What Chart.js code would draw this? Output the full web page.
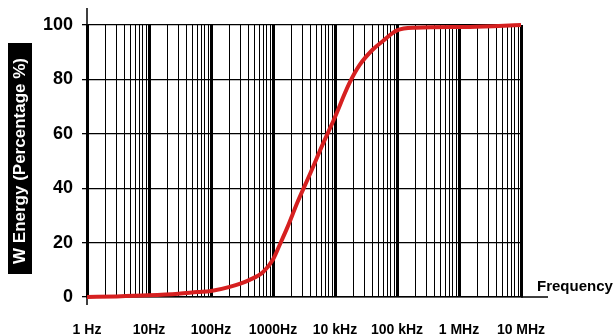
<!DOCTYPE html>
<html>
<head>
<meta charset="utf-8">
<script src="https://cdn.jsdelivr.net/npm/chart.js@4.4.1/dist/chart.umd.min.js"></script>
<style>
  html, body { margin: 0; padding: 0; background: #fff; }
  #wrap { width: 613px; height: 336px; }
</style>
</head>
<body>
<div id="wrap"><canvas id="chart-energy"></canvas></div>
<script>
// Frequency (Hz) and cumulative energy (%)
const freqHz = [1, 3, 10, 30, 60, 100, 200, 420, 700, 1000, 1300, 1700, 2500, 4000, 6300, 9500, 17000, 25000, 40000, 60000, 100000, 200000, 1500000, 10000000];
const energyPct = [0, 0.2, 0.6, 1.2, 1.8, 2.2, 3.7, 6.3, 9.3, 13.8, 19.5, 25.5, 35, 45.5, 56, 65, 78.5, 85.3, 90.8, 94.2, 98, 99, 99.3, 100];

// Tick labels
const decadeValues = [1, 10, 100, 1000, 10000, 100000, 1000000, 10000000];
const decadeLabels = ['1 Hz', '10Hz', '100Hz', '1000Hz', '10 kHz', '100 kHz', '1 MHz', '10 MHz'];
const yTicks = [0, 20, 40, 60, 80, 100];

function isDecade(v) {
    const l = Math.log10(v);
    return Math.abs(l - Math.round(l)) < 1e-9;
}

// log grid: 1..9 in every decade
const xGridValues = [];
decadeValues.forEach(function (d, i) {
    if (i === decadeValues.length - 1) { xGridValues.push(d); return; }
    for (let k = 1; k <= 9; k++) xGridValues.push(d * k);
});

const extras = {
    id: 'extras',
    beforeDraw(chart) {
        // black box behind the y title
        const ctx = chart.ctx;
        const y = chart.scales.y;
        const cy = (y.top + y.bottom) / 2;
        ctx.save();
        ctx.fillStyle = '#000';
        ctx.fillRect(8, cy - 118, 24, 231);
        ctx.restore();
    },
    beforeDatasetsDraw(chart) {
        const ctx = chart.ctx;
        const x = chart.scales.x, y = chart.scales.y;
        const y0 = y.getPixelForValue(0);
        ctx.save();
        ctx.strokeStyle = '#000';
        ctx.lineWidth = 1.5;
        ctx.beginPath();
        ctx.moveTo(x.right, y0);
        ctx.lineTo(x.right + 27, y0);
        ctx.moveTo(x.left, y.top - 17);
        ctx.lineTo(x.left, y0 + 8);
        ctx.stroke();
        ctx.restore();
    },
    afterDraw(chart) {
        const ctx = chart.ctx;
        ctx.save();
        ctx.fillStyle = '#000';
        ctx.font = 'bold 15px "Liberation Sans", Arial, sans-serif';
        ctx.textBaseline = 'alphabetic';
        ctx.textAlign = 'left';
        ctx.fillText('Frequency', 537, 291);
        ctx.restore();
    }
};

new Chart(document.getElementById('chart-energy'), {
    type: 'line',
    data: {
        datasets: [{
            label: 'W Energy',
            data: freqHz.map(function (f, i) { return { x: f, y: energyPct[i] }; }),
            borderColor: '#d62020',
            borderWidth: 4,
            pointRadius: 0,
            cubicInterpolationMode: 'monotone',
            clip: false
        }]
    },
    options: {
        responsive: true,
        maintainAspectRatio: false,
        animation: false,
        devicePixelRatio: 1,
        layout: { padding: { top: 25, right: 92, left: 0, bottom: 0 } },
        scales: {
            x: {
                type: 'logarithmic',
                min: 1,
                max: 10000000,
                afterBuildTicks: function (scale) {
                    scale.ticks = xGridValues.map(function (v) { return { value: v }; });
                },
                afterFit: function (scale) { scale.height = 39; },
                grid: {
                    color: '#000',
                    lineWidth: function (c) { return c.tick && isDecade(c.tick.value) ? 3 : 1; },
                    drawTicks: false
                },
                border: { display: true, color: '#000', width: 1.5 },
                ticks: {
                    autoSkip: false,
                    maxRotation: 0,
                    minRotation: 0,
                    padding: 25,
                    color: '#000',
                    font: { family: '"Liberation Sans", Arial, sans-serif', size: 14, weight: 'bold' },
                    callback: function (value) {
                        const i = decadeValues.indexOf(value);
                        return i >= 0 ? decadeLabels[i] : '';
                    }
                }
            },
            y: {
                min: 0,
                max: 100,
                afterBuildTicks: function (scale) {
                    scale.ticks = yTicks.map(function (v) { return { value: v }; });
                },
                afterFit: function (scale) { scale.width = 87; },
                grid: { color: '#000', lineWidth: 1.3, tickLength: 5 },
                border: { display: true, color: '#000', width: 1.5 },
                ticks: {
                    padding: 9,
                    color: '#000',
                    font: { family: '"Liberation Sans", Arial, sans-serif', size: 18, weight: 'bold' }
                },
                title: {
                    display: true,
                    text: 'W Energy (Percentage %)',
                    color: '#fff',
                    padding: { top: 10, bottom: 0 },
                    font: { family: '"Liberation Sans", Arial, sans-serif', size: 17, weight: 'bold' }
                }
            }
        },
        plugins: {
            legend: { display: false },
            tooltip: { enabled: false }
        }
    },
    plugins: [extras]
});
</script>
</body>
</html>
